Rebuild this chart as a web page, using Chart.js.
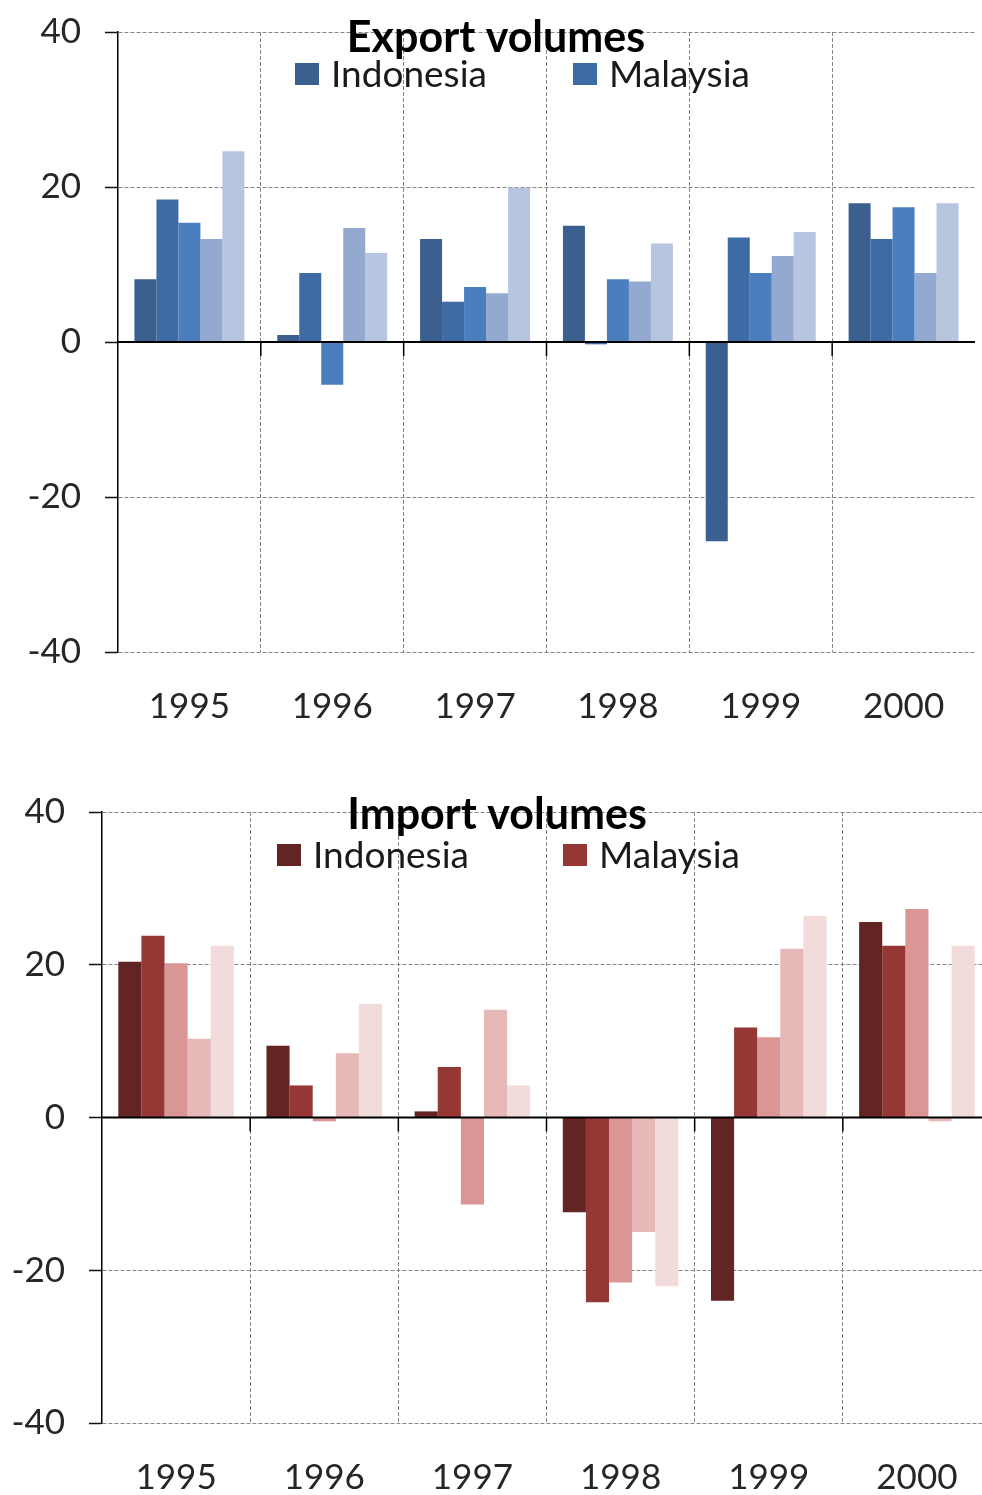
<!DOCTYPE html>
<html>
<head>
<meta charset="utf-8">
<title>Export and import volumes</title>
<script src="https://cdn.jsdelivr.net/npm/chart.js@4/dist/chart.umd.min.js"></script>
<style>
  html, body { margin: 0; padding: 0; background: #fff; overflow: hidden; width: 982px; height: 1495px; }
  .panel { position: absolute; left: 0; }
  #exportPanel { top: 0; }
  #importPanel { top: 760px; }
</style>
</head>
<body>
<div class="panel" id="exportPanel"><canvas id="exportChart" width="982" height="740"></canvas></div>
<div class="panel" id="importPanel"><canvas id="importChart" width="999" height="735"></canvas></div>
<script>
// Categories and series (annual % change)
const years = ['1995', '1996', '1997', '1998', '1999', '2000'];
const countries = ['Indonesia', 'Malaysia', 'Philippines', 'Singapore', 'Thailand'];
const yTicks = [-40, -20, 0, 20, 40];

const exportIndonesia   = [8.1, 0.9, 13.3, 15.0, -25.7, 17.9];
const exportMalaysia    = [18.4, 8.9, 5.2, -0.3, 13.5, 13.3];
const exportPhilippines = [15.4, -5.5, 7.1, 8.1, 8.9, 17.4];
const exportSingapore   = [13.3, 14.7, 6.3, 7.8, 11.1, 8.9];
const exportThailand    = [24.6, 11.5, 19.9, 12.7, 14.2, 17.9];

const importIndonesia   = [20.4, 9.4, 0.8, -12.4, -24.0, 25.6];
const importMalaysia    = [23.8, 4.2, 6.6, -24.2, 11.8, 22.5];
const importPhilippines = [20.2, -0.5, -11.4, -21.6, 10.5, 27.3];
const importSingapore   = [10.3, 8.4, 14.1, -15.0, 22.1, -0.5];
const importThailand    = [22.5, 14.9, 4.2, -22.1, 26.4, 22.5];

const blues = ['#3b5f8e', '#3e6ba6', '#4a7ebf', '#94a9cf', '#b7c5df'];
const reds  = ['#632523', '#953735', '#d99694', '#e6b9b8', '#f2dcdb'];

const FONT = 'Lato, "Open Sans", sans-serif';

// Solid zero line with category tick marks, plus the in-plot title and legend
const panelDecor = {
  id: 'panelDecor',
  afterDatasetsDraw(chart) {
    const { ctx, chartArea } = chart;
    const xs = chart.scales.x, ys = chart.scales.y;
    const y0 = ys.getPixelForValue(0);
    ctx.save();
    ctx.strokeStyle = '#000';
    ctx.lineWidth = 2;
    ctx.beginPath();
    ctx.moveTo(chartArea.left, y0);
    ctx.lineTo(chartArea.right, y0);
    ctx.stroke();
    ctx.lineWidth = 1.5;
    for (let i = 1; i < years.length; i++) {
      const bx = (xs.getPixelForValue(i - 1) + xs.getPixelForValue(i)) / 2;
      ctx.beginPath();
      ctx.moveTo(bx, y0);
      ctx.lineTo(bx, y0 + 14);
      ctx.stroke();
    }
    ctx.restore();
  },
  afterDraw(chart, args, opts) {
    const { ctx } = chart;
    ctx.save();
    ctx.fillStyle = '#000';
    ctx.textAlign = 'center';
    ctx.textBaseline = 'middle';
    ctx.font = 'bold ' + opts.titleSize + 'px ' + FONT;
    ctx.fillText(opts.title, opts.titleX, opts.titleY);
    ctx.font = opts.legendSize + 'px ' + FONT;
    ctx.textAlign = 'left';
    opts.legendX.forEach((lx, i) => {
      const ds = chart.data.datasets[i];
      ctx.fillStyle = ds.backgroundColor;
      ctx.fillRect(lx, opts.legendY - 11, 24, 22);
      ctx.fillStyle = '#1a1a1a';
      ctx.fillText(ds.label, lx + 36, opts.legendY + 1);
    });
    ctx.restore();
  }
};

function makeChart(canvasId, series, colors, decor, layout) {
  const datasets = series.map((values, i) => ({
    label: countries[i],
    data: values,
    backgroundColor: colors[i],
    borderWidth: 0,
    categoryPercentage: layout.catPct,
    barPercentage: 1.0
  }));
  return new Chart(document.getElementById(canvasId), {
    type: 'bar',
    data: { labels: years, datasets },
    plugins: [panelDecor],
    options: {
      responsive: false,
      animation: false,
      devicePixelRatio: 1,
      layout: { padding: { top: layout.top, right: layout.right, left: 0, bottom: 0 } },
      plugins: {
        legend: { display: false },
        title: { display: false },
        tooltip: { enabled: false },
        panelDecor: decor
      },
      scales: {
        x: {
          grid: {
            offset: true,
            drawTicks: false,
            lineWidth: 1,
            // category separators only; no closing line on the right edge
            color: (c) => (c.tick ? '#868686' : 'rgba(0,0,0,0)')
          },
          border: { display: false, dash: [4, 2] },
          ticks: {
            color: '#262626',
            padding: layout.xPad,
            font: { family: FONT, size: 35 }
          },
          afterFit: (s) => { s.height = layout.xHeight; }
        },
        y: {
          min: -40,
          max: 40,
          afterBuildTicks: (s) => { s.ticks = yTicks.map(v => ({ value: v })); },
          grid: {
            color: '#868686',
            lineWidth: 1,
            drawTicks: true,
            tickLength: 13,
            tickColor: '#111',
            tickWidth: 1.5
          },
          border: { display: true, color: '#000', width: 1.5, dash: [4, 2] },
          ticks: {
            color: '#262626',
            padding: 24,
            font: { family: FONT, size: 35 }
          },
          afterFit: (s) => {
            s.width = layout.yWidth;
            // the plot edges are set by the layout padding alone
            s.paddingTop = 0;
            s.paddingBottom = 0;
          }
        }
      }
    }
  });
}

function draw() {
  makeChart('exportChart',
    [exportIndonesia, exportMalaysia, exportPhilippines, exportSingapore, exportThailand],
    blues,
    { title: 'Export volumes', titleSize: 43, titleX: 496, titleY: 38,
      legendSize: 37, legendX: [295, 573], legendY: 74 },
    { top: 32, right: 7, yWidth: 118, xHeight: 88, xPad: 34, catPct: 0.77 });

  makeChart('importChart',
    [importIndonesia, importMalaysia, importPhilippines, importSingapore, importThailand],
    reds,
    { title: 'Import volumes', titleSize: 43, titleX: 497, titleY: 55,
      legendSize: 37, legendX: [277, 563], legendY: 95 },
    { top: 52, right: 8, yWidth: 102, xHeight: 72, xPad: 34, catPct: 0.78 });
}

if (document.fonts && document.fonts.load) {
  Promise.all([
    document.fonts.load('35px Lato'),
    document.fonts.load('bold 43px Lato')
  ]).then(draw, draw);
} else {
  draw();
}
</script>
</body>
</html>
